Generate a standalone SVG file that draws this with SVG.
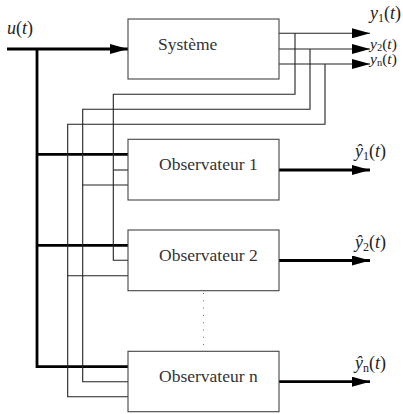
<svg xmlns="http://www.w3.org/2000/svg" width="403" height="414" viewBox="0 0 403 414">
<defs>
<marker id="ah" markerUnits="userSpaceOnUse" markerWidth="18" markerHeight="10" refX="18" refY="5" orient="auto" viewBox="0 0 18 10">
<path d="M0,0 L18,5 L0,10 Z" fill="#000"/>
</marker>
</defs>
<style>
.box{fill:#fff;stroke:#444;stroke-width:1.1}
.thin{fill:none;stroke:#222;stroke-width:1.1}
.thick{fill:none;stroke:#000;stroke-width:2.8}
.lbl{font-family:"Liberation Serif",serif;font-size:17.5px;fill:#333}
.m{font-family:"Liberation Serif",serif;font-size:18px;fill:#222}
.ms{font-family:"Liberation Serif",serif;font-size:15.5px;fill:#222}
.i{font-style:italic}
.sub{font-size:12px}
.sub2{font-size:10.5px}
</style>
<rect width="403" height="414" fill="#fff"/>
<g id="connectors">
<path class="thick" d="M7,49 H128" marker-end="url(#ah)"/>
<path class="thick" d="M37,49 V366.7 H128"/>
<path class="thick" d="M37,154.3 H128"/>
<path class="thick" d="M37,245.3 H128"/>
<path class="thin" d="M279,33.3 H370" marker-end="url(#ah)"/>
<path class="thin" d="M279,49 H370" marker-end="url(#ah)"/>
<path class="thin" d="M279,64 H370" marker-end="url(#ah)"/>
<path class="thin" d="M295,33.3 V94.3 H113.3 V260.3 H128"/>
<path class="thin" d="M310,49 V109.3 H82.7 V381.7 H128"/>
<path class="thin" d="M325,64 V124.3 H67.7 V396.7 H128"/>
<path class="thin" d="M113.3,170 H128"/>
<path class="thin" d="M82.7,185 H128"/>
<path class="thin" d="M67.7,275.7 H128"/>
<path class="thick" d="M279,170 H370" marker-end="url(#ah)"/>
<path class="thick" d="M279,260.5 H370" marker-end="url(#ah)"/>
<path class="thick" d="M279,381.7 H370" marker-end="url(#ah)"/>
<path d="M203.5,293 V348" fill="none" stroke="#666" stroke-width="1" stroke-dasharray="1,6.3"/>
</g>
<g id="systeme">
<rect class="box" x="128" y="19" width="151" height="60"/>
<text class="lbl" x="158" y="50">Système</text>
</g>
<g id="obs1">
<rect class="box" x="128" y="139.3" width="151" height="60.7"/>
<text class="lbl" x="159" y="169.5">Observateur 1</text>
</g>
<g id="obs2">
<rect class="box" x="128" y="230" width="151" height="60.7"/>
<text class="lbl" x="159" y="260.5">Observateur 2</text>
</g>
<g id="obsn">
<rect class="box" x="128" y="351.3" width="151" height="60.4"/>
<text class="lbl" x="159" y="381.5">Observateur n</text>
</g>
<g id="labels">
<text class="m" x="7" y="34"><tspan class="i">u</tspan>(<tspan class="i">t</tspan>)</text>
<text class="m" x="370" y="19"><tspan class="i">y</tspan><tspan class="sub" dy="3">1</tspan><tspan dy="-3">(</tspan><tspan class="i">t</tspan>)</text>
<text class="ms" x="370" y="48.5"><tspan class="i">y</tspan><tspan class="sub2" dy="2.5">2</tspan><tspan dy="-2.5">(</tspan><tspan class="i">t</tspan>)</text>
<text class="ms" x="370" y="63.5"><tspan class="i">y</tspan><tspan class="sub2" dy="2.5">n</tspan><tspan dy="-2.5">(</tspan><tspan class="i">t</tspan>)</text>
<text class="m" x="355" y="157"><tspan class="i">ŷ</tspan><tspan class="sub" dy="3">1</tspan><tspan dy="-3">(</tspan><tspan class="i">t</tspan>)</text>
<text class="m" x="355" y="247.5"><tspan class="i">ŷ</tspan><tspan class="sub" dy="3">2</tspan><tspan dy="-3">(</tspan><tspan class="i">t</tspan>)</text>
<text class="m" x="355" y="368.5"><tspan class="i">ŷ</tspan><tspan class="sub" dy="3">n</tspan><tspan dy="-3">(</tspan><tspan class="i">t</tspan>)</text>
</g>
</svg>
